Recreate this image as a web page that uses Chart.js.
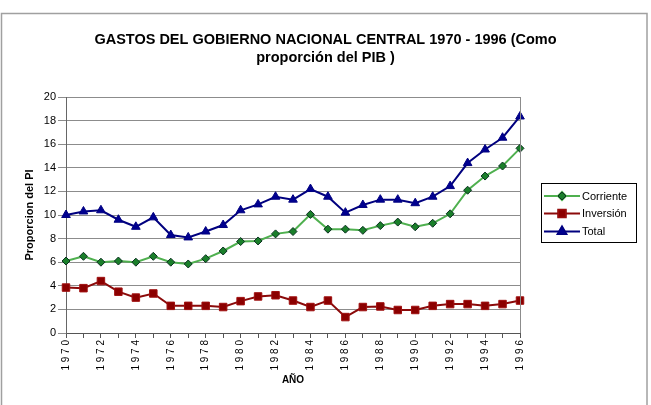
<!DOCTYPE html>
<html>
<head>
<meta charset="utf-8">
<script src="https://cdn.jsdelivr.net/npm/chart.js@4"></script>
<style>
  html, body { margin: 0; padding: 0; background: #fff; }
  canvas { display: block; }
</style>
</head>
<body>
<canvas id="grafico" width="651" height="405"></canvas>
<script>
// años 1970 - 1996
const anios = ['1970','1971','1972','1973','1974','1975','1976','1977','1978','1979',
  '1980','1981','1982','1983','1984','1985','1986','1987','1988','1989',
  '1990','1991','1992','1993','1994','1995','1996'];

const corriente = [6.1, 6.5, 6.0, 6.1, 6.0, 6.5, 6.0, 5.85, 6.3, 6.95,
  7.75, 7.8, 8.4, 8.6, 10.05, 8.8, 8.8, 8.7, 9.1, 9.4,
  9.0, 9.3, 10.1, 12.1, 13.3, 14.15, 15.65];

const inversion = [3.85, 3.8, 4.4, 3.5, 3.0, 3.35, 2.3, 2.3, 2.3, 2.2,
  2.7, 3.1, 3.2, 2.75, 2.2, 2.75, 1.35, 2.2, 2.25, 1.95,
  1.95, 2.3, 2.45, 2.45, 2.3, 2.45, 2.75];

const total = [10.0, 10.3, 10.4, 9.6, 9.0, 9.8, 8.3, 8.1, 8.6, 9.15,
  10.4, 10.9, 11.55, 11.3, 12.2, 11.55, 10.2, 10.85, 11.3, 11.3,
  11.0, 11.55, 12.45, 14.4, 15.55, 16.55, 18.35];

const FUENTE = 'Arial, "Liberation Sans", sans-serif';

// marco exterior, borde del area y leyenda a mano (linea + marcador como en Excel)
const extras = {
    id: 'extras',
    beforeDraw(chart) {
        const ctx = chart.ctx;
        ctx.save();
        ctx.strokeStyle = '#a0a0a0';
        ctx.lineWidth = 1.5;
        ctx.strokeRect(1.5, 13.5, 645.5, 420);
        ctx.restore();
    },
    afterDraw(chart) {
        const ctx = chart.ctx;
        const a = chart.chartArea;
        ctx.save();
        ctx.strokeStyle = '#8c8c8c';
        ctx.lineWidth = 1;
        ctx.beginPath();
        ctx.moveTo(Math.round(a.right) + 0.5, a.top);
        ctx.lineTo(Math.round(a.right) + 0.5, a.bottom);
        ctx.stroke();

        // leyenda
        const bx = 541, by = 183, bw = 95, bh = 59;
        ctx.fillStyle = '#fff';
        ctx.fillRect(bx, by, bw, bh);
        ctx.strokeStyle = '#000';
        ctx.lineWidth = 1;
        ctx.strokeRect(bx + 0.5, by + 0.5, bw, bh);
        const filas = [196, 213.5, 231.5];
        chart.data.datasets.forEach((ds, i) => {
            const y = filas[i];
            ctx.strokeStyle = ds.borderColor;
            ctx.lineWidth = ds.borderWidth;
            ctx.beginPath();
            ctx.moveTo(544, y);
            ctx.lineTo(580, y);
            ctx.stroke();
            Chart.helpers.drawPoint(ctx, {
                pointStyle: ds.pointStyle,
                radius: ds.pointRadius,
                borderWidth: ds.pointBorderWidth,
                rotation: 0
            }, 562, y);
            ctx.fillStyle = ds.pointBackgroundColor;
            ctx.strokeStyle = ds.pointBorderColor;
            ctx.lineWidth = ds.pointBorderWidth;
            ctx.fill();
            ctx.stroke();
            ctx.fillStyle = '#000';
            ctx.font = '11px ' + FUENTE;
            ctx.textBaseline = 'middle';
            ctx.textAlign = 'left';
            ctx.fillText(ds.label, 582, y + 0.5);
        });
        ctx.restore();
    }
};

new Chart(document.getElementById('grafico'), {
    type: 'line',
    data: {
        labels: anios,
        datasets: [{
            label: 'Corriente',
            data: corriente,
            borderColor: '#4fb04f',
            borderWidth: 2,
            pointStyle: 'rectRot',
            pointRadius: 4,
            pointBackgroundColor: '#1a7f2a',
            pointBorderColor: '#0a3020',
            pointBorderWidth: 1,
            tension: 0
        }, {
            label: 'Inversión',
            data: inversion,
            borderColor: '#8b0a0a',
            borderWidth: 2,
            pointStyle: 'rect',
            pointRadius: 5.3,
            pointBackgroundColor: '#8b0000',
            pointBorderColor: '#a01010',
            pointBorderWidth: 1,
            tension: 0
        }, {
            label: 'Total',
            data: total,
            borderColor: '#00007f',
            borderWidth: 2,
            pointStyle: 'triangle',
            pointRadius: 5,
            pointBackgroundColor: '#000090',
            pointBorderColor: '#000080',
            pointBorderWidth: 1,
            tension: 0
        }]
    },
    options: {
        responsive: false,
        animation: false,
        layout: { padding: 0 },
        plugins: {
            legend: { display: false },
            tooltip: { enabled: false },
            title: {
                display: true,
                text: ['GASTOS DEL GOBIERNO NACIONAL CENTRAL 1970 - 1996 (Como', 'proporción del PIB )'],
                color: '#000',
                font: { family: FUENTE, size: 14.5, weight: 'bold', lineHeight: 1.25 },
                padding: { top: 31, bottom: 29.75 }
            }
        },
        scales: {
            x: {
                type: 'category',
                offset: false,
                afterFit(scale) { scale.height = 72; },
                grid: {
                    display: true,
                    drawOnChartArea: false,
                    drawTicks: true,
                    tickLength: 5,
                    color: '#555'
                },
                border: { display: true, color: '#555', width: 1 },
                ticks: {
                    autoSkip: false,
                    maxRotation: 90,
                    minRotation: 90,
                    padding: 2,
                    color: '#000',
                    font: { family: FUENTE, size: 10 },
                    callback(val, i) {
                        return i % 2 === 0 ? anios[i].split('').join(' ') : '';
                    }
                },
                title: {
                    display: true,
                    text: 'AÑO',
                    color: '#000',
                    font: { family: FUENTE, size: 10, weight: 'bold', lineHeight: 1.2 },
                    padding: { top: 0, bottom: 19 }
                }
            },
            y: {
                min: 0,
                max: 20,
                afterFit(scale) { scale.width = 66; },
                grid: {
                    color: '#8c8c8c',
                    lineWidth: 1,
                    drawTicks: true,
                    tickLength: 8
                },
                border: { display: true, color: '#666', width: 1 },
                ticks: {
                    stepSize: 2,
                    padding: 2,
                    color: '#000',
                    font: { family: FUENTE, size: 11 }
                },
                title: {
                    display: true,
                    text: 'Proporcion del PI',
                    color: '#000',
                    font: { family: FUENTE, size: 11, weight: 'bold', lineHeight: 1.2 },
                    padding: { top: 23.5, bottom: 0 }
                }
            },
            // eje vacio a la derecha: deja sitio para la leyenda
            hueco: {
                position: 'right',
                display: true,
                afterFit(scale) { scale.width = 131; },
                grid: { display: false },
                border: { display: false },
                ticks: { display: false }
            }
        }
    },
    plugins: [extras]
});
</script>
</body>
</html>
